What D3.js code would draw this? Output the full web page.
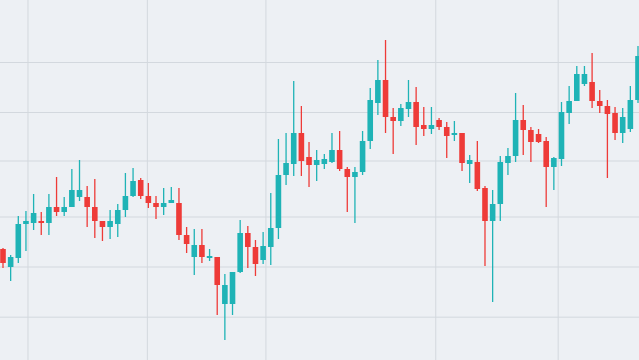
<!DOCTYPE html>
<html>
<head>
<meta charset="utf-8">
<script src="https://cdn.jsdelivr.net/npm/d3@7"></script>
<style>
  html, body { margin: 0; padding: 0; background: #edf0f4; overflow: hidden; }
  .grid line { stroke: #d3d8de; stroke-width: 1; }
  .grid path { display: none; }
</style>
</head>
<body>
<div id="chart"></div>
<script>
// candle values (price units)
var opens  = [135.5,126.5,131,148,148.5,149.5,148.5,156.5,154,156.5,
              161.5,161.5,156.5,149.5,146.5,148,155,162,170,162,
              158.5,156.5,158.5,158.5,142.5,131.5,137.5,131,131.5,108,
              108,124,143.5,136.5,130,136.5,146,172.5,178,193.5,
              181.5,177.5,178,179,185,175.5,171.5,174,189.5,208.5,
              220,201.5,199.5,205.5,209,197.5,195.5,200,196.5,192.5,
              193.5,178,179,166,149.5,158,178.5,182,200,195,
              193,189.5,176.5,180.5,203.5,209.5,218,219,209.5,207,
              203.5,193.5,195.5,210];
var closes = [128.5,131.5,148,149.5,153.5,148.5,156.5,154,156.5,165,
              165,156.5,149.5,146.5,149.5,155,162,169.5,162,158.5,
              156.5,158.5,160,142.5,138,137.5,131.5,132,117.5,117.5,
              124,143.5,136.5,128,137,146,172.5,178.5,193.5,179.5,
              177.5,180,180.5,185,175.5,171.5,174,189.5,210,220,
              201.5,199.5,206,209,196.5,195.5,197.5,196.5,192,193.5,
              178.5,180,165.5,149.5,158,179,182,200,195,189,
              189,176.5,181,204,209.5,223,223,209.5,207,203,
              193.5,201.5,210,232];
var highs  = [136,132.5,152,154.5,163,154,163,171.5,161.5,175.5,
              180,167,170.5,149.5,155,158,173.5,176,171,168.5,
              162,166,166.5,166,146.5,145.5,145.5,135.5,131.5,123,
              124,150,147,140,144,163.5,190.5,193.5,219.5,207,
              189,185,183,193.5,194.5,176.5,176.5,194.5,216,230,
              240,206,208,220,216.5,206.5,206.5,201,199,199.5,
              193.5,182.5,189.5,167,165,182,186,213.5,207.5,196.5,
              195.5,191.5,181.5,209,217,227,227,233.5,215,210,
              206.5,206,217,237];
var lows   = [126,119.5,128.5,134.5,145,142.5,142.5,152,152,156.5,
              159.5,146.5,141,139.5,140.5,141.5,151.5,161.5,160.5,156,
              150.5,152.5,158.5,140,133.5,122.5,128.5,129.5,102.5,90,
              102.5,123.5,126,122,128,127.5,140.5,167.5,172,172,
              166.5,169.5,175.5,178.5,174.5,154,148.5,172.5,185.5,202.5,
              193.5,183,197,201.5,187.5,192,193,195,181,189.5,
              174.5,168.5,164.5,127,109,149.5,172.5,179,182.5,179,
              188.5,156.5,165,177,198,209.5,217,206,203.5,171,
              190,188.5,194,208.5];

// gridline positions
var yGrid = [229, 204, 179.75, 151.75, 126.75, 101.65];
var xGrid = [3.2, 18.8, 34.3, 56.5, 72.5];

function init() {

  var w = 639;
  var h = 360;

  var upColor = "#1fb3b6";
  var downColor = "#ee3b38";

  var xScale = d3.scaleLinear()
                 .domain([0, opens.length - 1])
                 .range([3, 638]);

  var yScale = d3.scaleLinear()
                 .domain([80, 260])
                 .range([h, 0]);

  var bodyWidth = 5.6;

  var svg = d3.select("#chart")
              .append("svg")
              .attr("width", w)
              .attr("height", h);

  svg.append("rect")
     .attr("width", w)
     .attr("height", h)
     .attr("fill", "#edf0f4");

  // horizontal gridlines
  svg.append("g")
     .attr("class", "grid")
     .call(d3.axisLeft(yScale)
             .tickValues(yGrid)
             .tickSize(-w)
             .tickFormat(""));

  // vertical gridlines
  svg.append("g")
     .attr("class", "grid")
     .call(d3.axisTop(xScale)
             .tickValues(xGrid)
             .tickSize(-h)
             .tickFormat(""));

  var candles = opens.map(function(o, i) {
    return { i: i, open: o, close: closes[i], high: highs[i], low: lows[i] };
  });

  var g = svg.selectAll(".candle")
             .data(candles)
             .enter()
             .append("g")
             .attr("class", "candle");

  g.append("line")
   .attr("x1", function(d) { return xScale(d.i); })
   .attr("x2", function(d) { return xScale(d.i); })
   .attr("y1", function(d) { return yScale(d.high); })
   .attr("y2", function(d) { return yScale(d.low); })
   .attr("stroke", function(d) { return d.close >= d.open ? upColor : downColor; })
   .attr("stroke-width", 1.3);

  g.append("rect")
   .attr("x", function(d) { return xScale(d.i) - bodyWidth / 2; })
   .attr("y", function(d) { return yScale(Math.max(d.open, d.close)); })
   .attr("width", bodyWidth)
   .attr("height", function(d) { return Math.max(1.5, Math.abs(yScale(d.open) - yScale(d.close))); })
   .attr("fill", function(d) { return d.close >= d.open ? upColor : downColor; });
}

window.onload = init;
</script>
</body>
</html>
